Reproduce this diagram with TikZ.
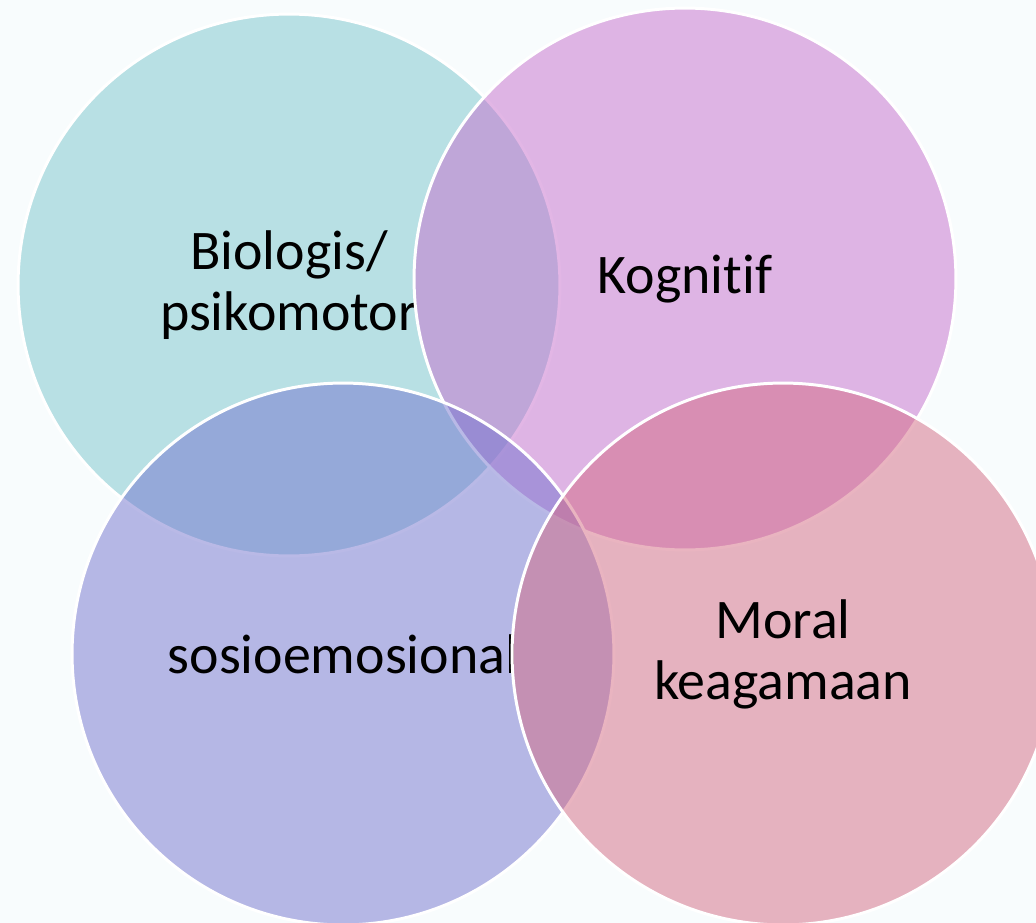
\documentclass[tikz,border=0pt]{standalone}
\usepackage{fontspec}
\setmainfont{Carlito}[Ligatures=NoCommon]
\usepackage{xcolor}
\definecolor{bgpage}{RGB}{248,252,253}
\definecolor{biocol}{RGB}{122,198,205}
\definecolor{kogcol}{RGB}{198,110,205}
\definecolor{sosiocol}{RGB}{116,116,207}
\definecolor{moralcol}{RGB}{212,106,131}

\begin{document}
\begin{tikzpicture}[
    x=0.02cm, y=-0.02cm,
    area/.style={circle, draw=white, line width=1.7pt, fill opacity=0.5, text opacity=1, minimum size=10.84cm, inner sep=0pt, align=center, font=\fontsize{31.8}{34.7}\selectfont}
]
    \useasboundingbox (0,0) rectangle (1036,923);
    \fill[bgpage] (0,0) rectangle (1036,923);

    \node[area, fill=biocol] (bio) at (289,285) {Biologis/\\psikomotor};
    \node[area, fill=kogcol] (kog) at (685,279) {Kognitif};
    \node[area, fill=sosiocol] (sosio) at (343,654) {sosioemosional};
    \node[area, fill=moralcol] (moral) at (783,654) {Moral\\keagamaan};
\end{tikzpicture}
\end{document}
